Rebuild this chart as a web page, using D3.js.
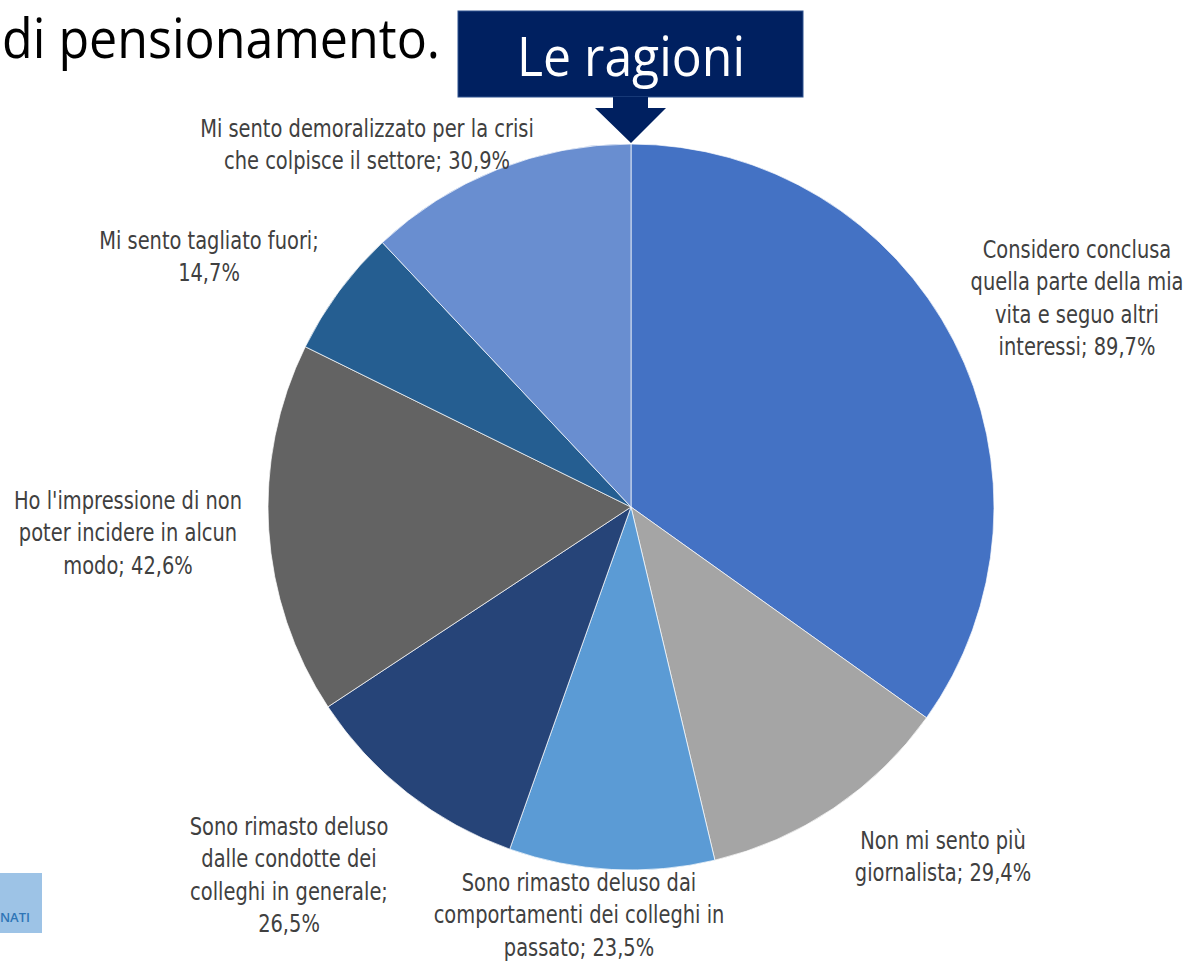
<!DOCTYPE html>
<html>
<head>
<meta charset="utf-8">
<script src="https://cdn.jsdelivr.net/npm/d3@7"></script>
<style>
  html, body { margin: 0; padding: 0; background: #fff; }
  #chart { width: 1192px; height: 961px; }
</style>
</head>
<body>
<div id="chart"></div>
<script>
// dati
const labels = [
  ["Considero conclusa", "quella parte della mia", "vita e seguo altri", "interessi; 89,7%"],
  ["Non mi sento più", "giornalista; 29,4%"],
  ["Sono rimasto deluso dai", "comportamenti dei colleghi in", "passato; 23,5%"],
  ["Sono rimasto deluso", "dalle condotte dei", "colleghi in generale;", "26,5%"],
  ["Ho l'impressione di non", "poter incidere in alcun", "modo; 42,6%"],
  ["Mi sento tagliato fuori;", "14,7%"],
  ["Mi sento demoralizzato per la crisi", "che colpisce il settore; 30,9%"]
];
const values = [89.7, 29.4, 23.5, 26.5, 42.6, 14.7, 30.9];
const colors = ["#4472C4", "#A5A5A5", "#5B9BD5", "#264478", "#636363", "#255E91", "#698ED0"];
// centro delle etichette (x, y prima riga)
const labelPos = [[1077, 258], [943, 849], [579, 891], [289, 835], [128, 509], [209, 249], [367, 137]];

const W = 1192, H = 961;
const cx = 631, cy = 507, r = 363;

const svg = d3.select('#chart').append('svg')
  .attr('width', W).attr('height', H);

// titolo tagliato in alto
svg.append('text')
  .attr('x', 2).attr('y', 58)
  .attr('font-family', 'Open Sans, Noto Sans, sans-serif')
  .attr('font-size', 54)
  .attr('textLength', 438).attr('lengthAdjust', 'spacingAndGlyphs')
  .attr('fill', '#000')
  .text('di pensionamento.');

// riquadro "Le ragioni" con freccia
svg.append('rect')
  .attr('x', 458).attr('y', 11).attr('width', 345).attr('height', 86)
  .attr('fill', '#002060').attr('stroke', '#2F528F').attr('stroke-width', 1);
svg.append('path')
  .attr('d', 'M613,97 L648,97 L648,108 L666,108 L631,143 L595,108 L613,108 Z')
  .attr('fill', '#002060');
svg.append('text')
  .attr('x', 631).attr('y', 76)
  .attr('text-anchor', 'middle')
  .attr('font-family', 'Open Sans, Noto Sans, sans-serif')
  .attr('font-size', 54)
  .attr('textLength', 228).attr('lengthAdjust', 'spacingAndGlyphs')
  .attr('fill', '#fff')
  .text('Le ragioni');

// torta
const pie = d3.pie().sort(null).value(d => d);
const arc = d3.arc().innerRadius(0).outerRadius(r);
const g = svg.append('g').attr('transform', `translate(${cx},${cy})`);
g.selectAll('path')
  .data(pie(values))
  .join('path')
    .attr('d', arc)
    .attr('fill', (d, i) => colors[i])
    .attr('stroke', '#fff')
    .attr('stroke-width', 0.7);

// etichette (font stretto: scala orizzontale)
const lab = svg.append('g')
  .attr('font-family', 'DejaVu Sans, sans-serif')
  .attr('font-size', 24)
  .attr('fill', '#404040')
  .attr('text-anchor', 'middle');
labels.forEach((lines, i) => {
  const t = lab.append('g')
    .attr('transform', `translate(${labelPos[i][0]},${labelPos[i][1]}) scale(0.81,1)`)
    .append('text');
  lines.forEach((ln, j) => {
    t.append('tspan')
      .attr('x', 0)
      .attr('y', j * 32.5)
      .text(ln);
  });
});

// logo tagliato in basso a sinistra
svg.append('rect')
  .attr('x', 0).attr('y', 873).attr('width', 42).attr('height', 60)
  .attr('fill', '#9DC3E6');
svg.append('text')
  .attr('x', 30).attr('y', 922)
  .attr('text-anchor', 'end')
  .attr('font-family', 'Open Sans, sans-serif')
  .attr('font-size', 13).attr('font-weight', 600)
  .attr('fill', '#2E75B6')
  .text('NATI');
</script>
</body>
</html>
